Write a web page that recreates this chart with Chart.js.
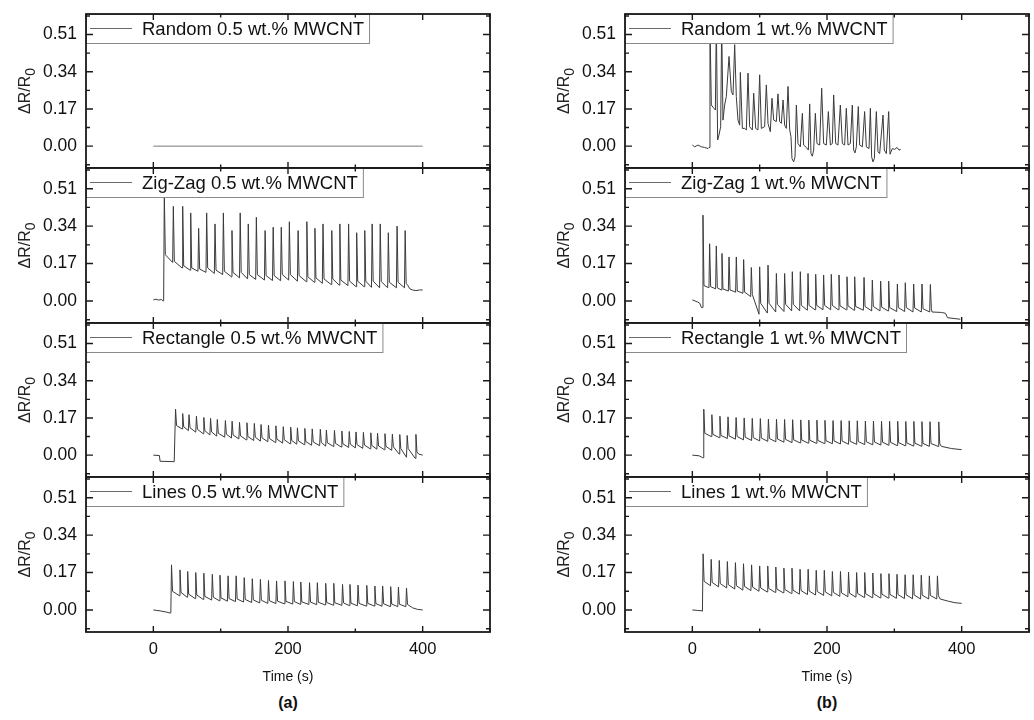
<!DOCTYPE html>
<html><head><meta charset="utf-8">
<script src="https://cdn.jsdelivr.net/npm/chart.js@4.4.1/dist/chart.umd.min.js"></script>
<style>
html,body{margin:0;padding:0;background:#fff;}
#wrap{position:relative;width:1034px;height:720px;overflow:hidden;font-family:"Liberation Sans",Arial,sans-serif;background:#fff;}
canvas{position:absolute;}
.lbl{position:absolute;color:#111;text-align:center;white-space:nowrap;}
</style></head><body><div id="wrap"></div>
<script>
// ---------- axis ticks ----------
const xTickValues = [0, 200, 400];
const xTickLabels = ['0', '200', '400'];
const xMinorTicks = [-100, 100, 300, 500];
const yTickValues = [0, 0.17, 0.34, 0.51];
const yTickLabels = ['0.00', '0.17', '0.34', '0.51'];
const yMinorTicks = [-0.085, 0.085, 0.255, 0.425, 0.595];
const seriesLabels = [
  'Random 0.5 wt.% MWCNT', 'Zig-Zag 0.5 wt.% MWCNT', 'Rectangle 0.5 wt.% MWCNT', 'Lines 0.5 wt.% MWCNT',
  'Random 1 wt.% MWCNT', 'Zig-Zag 1 wt.% MWCNT', 'Rectangle 1 wt.% MWCNT', 'Lines 1 wt.% MWCNT'
];

// ---------- Random 0.5 ----------
const random05 = [[0, 0], [400, 0]];

// ---------- Zig-Zag 0.5 ----------
const zz05Start = [[0,0.005],[4,0.008],[8,0.004],[12,0.007],[14.5,0.0]];
const zz05T = [16.3,29.7,43.6,55.5,67.3,79.2,91.6,104,116.8,129,141,153,166,178,190,202,215,228,240,252,265,277,290,302,314,325,337,349,362,374];
const zz05P = [0.49,0.43,0.43,0.40,0.33,0.40,0.35,0.40,0.32,0.40,0.35,0.38,0.32,0.335,0.335,0.36,0.32,0.36,0.33,0.35,0.32,0.35,0.35,0.31,0.32,0.35,0.35,0.31,0.34,0.32];
const zz05L = [0.003,0.175,0.15,0.14,0.135,0.13,0.125,0.12,0.11,0.105,0.10,0.098,0.095,0.093,0.092,0.095,0.09,0.088,0.085,0.08,0.075,0.072,0.07,0.065,0.065,0.062,0.06,0.06,0.06,0.06];
const zz05S = [0.21,0.18,0.16,0.15,0.145,0.15,0.14,0.135,0.13,0.13,0.12,0.12,0.115,0.115,0.12,0.12,0.115,0.11,0.105,0.10,0.10,0.095,0.09,0.09,0.09,0.09,0.088,0.085,0.085,0.08];
const zz05End = [[378,0.07],[381,0.055],[385,0.05],[390,0.047],[395,0.05],[400,0.05]];

// ---------- Rectangle 0.5 ----------
const r05Start = [[0,0],[9,-0.002],[10,-0.028],[31,-0.03]];
const r05T = [33,43.6,53,64,75,85,95,107,117,128,139,150,160,171,182,193,204,214,225,236,248,257,269,280,291,301,312,323,333,344,355,366,377,390];
const r05P = [0.21,0.19,0.185,0.178,0.172,0.168,0.163,0.158,0.155,0.15,0.148,0.145,0.14,0.137,0.134,0.13,0.128,0.125,0.122,0.12,0.118,0.115,0.113,0.11,0.108,0.106,0.104,0.102,0.1,0.098,0.096,0.094,0.09,0.095];
const r05L = [-0.03,0.12,0.112,0.105,0.098,0.092,0.087,0.082,0.078,0.074,0.07,0.067,0.064,0.061,0.058,0.055,0.052,0.05,0.048,0.045,0.043,0.041,0.039,0.037,0.035,0.033,0.031,0.029,0.027,0.025,0.022,0.005,-0.01,-0.015];
const r05S = [0.135,0.13,0.125,0.118,0.112,0.106,0.1,0.096,0.092,0.088,0.085,0.082,0.079,0.076,0.073,0.07,0.067,0.065,0.062,0.06,0.058,0.056,0.054,0.052,0.05,0.048,0.046,0.044,0.042,0.04,0.038,0.03,0.03,0.015];
const r05End = [[394,0.005],[400,0.0]];

// ---------- Lines 0.5 ----------
const l05Start = [[0,0],[10,-0.004],[20,-0.01],[25,-0.014]];
const l05T = [27,39.6,51,63,75,87.6,99,111,123,135,147,159,171,183,195.5,208,219,232,243.6,256,268,281,292,304,317,329,340.6,352.5,364,376];
const l05P = [0.205,0.182,0.175,0.17,0.167,0.162,0.158,0.155,0.155,0.147,0.142,0.139,0.134,0.132,0.132,0.129,0.127,0.124,0.124,0.121,0.121,0.116,0.116,0.113,0.112,0.109,0.109,0.106,0.104,0.10];
const l05L = [-0.012,0.065,0.058,0.052,0.048,0.045,0.042,0.04,0.038,0.036,0.034,0.032,0.03,0.029,0.028,0.027,0.026,0.025,0.024,0.023,0.022,0.021,0.02,0.019,0.018,0.018,0.017,0.016,0.015,0.015];
const l05S = [0.085,0.08,0.072,0.068,0.062,0.058,0.055,0.052,0.05,0.048,0.046,0.044,0.042,0.04,0.039,0.038,0.037,0.036,0.035,0.034,0.033,0.032,0.031,0.03,0.03,0.029,0.028,0.027,0.026,0.025];
const l05End = [[385,0.01],[392,0.003],[400,0.0]];

// ---------- Random 1 (time, value) ----------
const random1 = [[0,0.005],[3.5,-0.003],[8.4,0.005],[13.4,-0.003],[18.3,-0.006],[23.3,-0.011],[24.8,-0.006],[26.2,0.56],[28.2,0.188],[30.7,0.178],[34.2,0.165],[35.6,0.56],[37.6,0.028],[39.6,0.051],[42.1,0.089],[43.6,0.56],[45.5,0.119],[48,0.188],[50.5,0.227],[54.5,0.41],[57.9,0.25],[60.4,0.234],[62.9,0.464],[65.3,0.227],[67.8,0.119],[70.3,0.096],[71.3,0.337],[74.3,0.081],[77.7,0.081],[80.2,0.074],[82.7,0.334],[85.1,0.089],[89.1,0.074],[91.1,0.242],[94.1,0.081],[97.5,0.074],[100,0.326],[102.5,0.081],[107.4,0.089],[109.9,0.28],[112.4,0.104],[115.8,0.066],[118.3,0.219],[120.8,0.119],[124.8,0.112],[127.2,0.239],[129.7,0.112],[132.2,0.104],[134.7,0.211],[137.1,0.096],[139.6,0.081],[142.1,0.273],[144.6,0.074],[146.5,0.043],[148,-0.057],[150.5,-0.072],[152.5,-0.049],[154.5,0.188],[156.9,0.012],[160.4,-0.003],[163.4,0.15],[165.3,0.005],[169.3,-0.006],[172.3,-0.018],[174.3,0.193],[176.2,-0.034],[178.2,-0.046],[180.2,-0.018],[182.7,0.15],[185.1,0.012],[189.1,0.005],[192.1,0.265],[195,0.012],[199,0.005],[202,0.158],[205,0.005],[207.9,0.012],[209.9,0.234],[212.9,0.012],[216.3,0.005],[219.8,0.188],[222.8,0.012],[226.2,0.005],[228.7,0.173],[231.2,0.005],[234.7,0.012],[237.6,0.188],[239.6,-0.018],[241.6,-0.031],[243.6,-0.003],[246.5,0.181],[248.5,0.005],[252.5,-0.003],[255.9,0.158],[258.4,-0.003],[262.4,-0.011],[264.4,0.173],[266.3,-0.049],[268.3,-0.072],[270.3,-0.057],[273.3,0.158],[275.7,-0.026],[278.2,-0.034],[283.2,0.142],[285.1,-0.018],[288.1,-0.034],[291.6,0.158],[293.6,-0.037],[297,-0.011],[300.5,-0.015],[304,-0.006],[306.9,-0.018],[309.4,-0.015]];

// ---------- Zig-Zag 1 ----------
const zz1Start = [[0,0.005],[4,0.0],[8,-0.005],[11,-0.01],[13.5,-0.03]];
const zz1T = [15.8,25.7,35.6,44,54.5,65.3,76.2,87.6,100,112.4,124.8,137.1,148.5,160.4,171.8,183.2,195,206.4,217.8,229.7,241.1,255,267.3,279.7,291.6,304.5,316.3,328.7,341.1,353.5];
const zz1P = [0.39,0.26,0.25,0.216,0.20,0.20,0.188,0.152,0.155,0.163,0.125,0.125,0.133,0.133,0.125,0.121,0.118,0.121,0.118,0.11,0.11,0.107,0.095,0.09,0.09,0.077,0.083,0.077,0.077,0.075];
const zz1L = [-0.03,0.06,0.055,0.05,0.045,0.04,0.035,0.02,-0.06,-0.055,-0.05,-0.048,-0.045,-0.045,-0.042,-0.04,-0.04,-0.04,-0.04,-0.04,-0.042,-0.042,-0.045,-0.045,-0.045,-0.048,-0.048,-0.05,-0.05,-0.05];
const zz1S = [0.07,0.065,0.06,0.055,0.05,0.045,0.04,0.03,-0.01,-0.01,-0.015,-0.015,-0.015,-0.02,-0.02,-0.02,-0.02,-0.02,-0.022,-0.022,-0.025,-0.025,-0.025,-0.028,-0.03,-0.03,-0.03,-0.032,-0.035,-0.035];
const zz1End = [[356,-0.05],[370,-0.052],[376,-0.056],[379,-0.076],[390,-0.08],[398,-0.083]];

// ---------- Rectangle 1 ----------
const r1Start = [[0,0],[10,-0.003],[15.5,-0.012]];
const r1T = [17,29,41,53,65,77,89,101,113,125,137,149,161,173,185,197,209,221,233,245,257,269,281,293,305,317,329,341,353,366];
const r1P = [0.21,0.185,0.178,0.175,0.172,0.17,0.168,0.167,0.165,0.164,0.163,0.162,0.161,0.16,0.16,0.159,0.158,0.158,0.157,0.157,0.156,0.156,0.155,0.155,0.155,0.154,0.154,0.153,0.153,0.152];
const r1L = [-0.012,0.085,0.08,0.076,0.073,0.07,0.067,0.065,0.063,0.061,0.059,0.057,0.056,0.055,0.054,0.053,0.052,0.051,0.05,0.049,0.048,0.047,0.046,0.045,0.044,0.043,0.042,0.041,0.04,0.04];
const r1S = [0.1,0.095,0.09,0.088,0.085,0.082,0.08,0.078,0.076,0.074,0.072,0.07,0.069,0.068,0.067,0.066,0.065,0.064,0.063,0.062,0.061,0.06,0.059,0.058,0.057,0.056,0.055,0.054,0.053,0.052];
const r1End = [[370,0.04],[385,0.03],[400,0.025]];

// ---------- Lines 1 ----------
const l1Start = [[0,0],[8,-0.002],[14.5,-0.004]];
const l1T = [16,28,40,52,64,76,88,100,112,124,136,148,160,172,184,196,208,220,232,244,256,268,280,292,304,316,328,340,352,364];
const l1P = [0.255,0.23,0.225,0.22,0.215,0.21,0.205,0.2,0.2,0.195,0.19,0.19,0.185,0.185,0.18,0.18,0.175,0.175,0.172,0.17,0.17,0.168,0.165,0.165,0.162,0.16,0.16,0.158,0.155,0.155];
const l1L = [-0.005,0.11,0.105,0.1,0.095,0.09,0.088,0.085,0.082,0.08,0.078,0.075,0.072,0.07,0.068,0.066,0.064,0.062,0.06,0.058,0.057,0.056,0.055,0.054,0.053,0.052,0.051,0.05,0.05,0.05];
const l1S = [0.13,0.125,0.12,0.115,0.11,0.107,0.104,0.1,0.098,0.095,0.093,0.09,0.088,0.086,0.084,0.082,0.08,0.078,0.076,0.075,0.074,0.073,0.072,0.071,0.07,0.069,0.068,0.067,0.066,0.065];
const l1End = [[368,0.05],[380,0.04],[390,0.033],[400,0.03]];

// ---------- assemble point lists from the read values ----------
function pairs(arr){ return arr.map(p => ({x:p[0], y:p[1]})); }
function cycles(start, T, L, P, S, end){
  const pts = pairs(start);
  T.forEach((t,i) => { pts.push({x:t-1, y:L[i]}, {x:t, y:P[i]}, {x:t+1.5, y:S[i]}); });
  return pts.concat(pairs(end));
}
const seriesData = [
  pairs(random05),
  cycles(zz05Start, zz05T, zz05L, zz05P, zz05S, zz05End),
  cycles(r05Start, r05T, r05L, r05P, r05S, r05End),
  cycles(l05Start, l05T, l05L, l05P, l05S, l05End),
  pairs(random1),
  cycles(zz1Start, zz1T, zz1L, zz1P, zz1S, zz1End),
  cycles(r1Start, r1T, r1L, r1P, r1S, r1End),
  cycles(l1Start, l1T, l1L, l1P, l1S, l1End)
];

// ---------- layout ----------
const ROW_TOPS = [14, 168, 323, 477, 632];
const COL_LEFT = [86, 625];
const PLOT_W = 404;
const Y_AXIS_W = 86;
const FONT = '"Liberation Sans", Arial, sans-serif';
const wrap = document.getElementById('wrap');

const framePlugin = {
  id: 'framePlugin',
  afterDatasetsDraw(chart) {
    const ctx = chart.ctx, ca = chart.chartArea;
    const label = chart.data.datasets[0].label;
    ctx.save();
    ctx.font = '18.5px ' + FONT;
    const tw = ctx.measureText(label).width;
    const w = 56 + tw + 5, h = 29;
    ctx.fillStyle = '#fff';
    ctx.fillRect(ca.left, ca.top, w, h);
    ctx.strokeStyle = '#8a8a8a'; ctx.lineWidth = 1;
    ctx.strokeRect(Math.round(ca.left) + 0.5, Math.round(ca.top) + 0.5, w, h);
    ctx.strokeStyle = '#6a6a6a';
    ctx.beginPath(); ctx.moveTo(ca.left + 4, ca.top + h/2); ctx.lineTo(ca.left + 46, ca.top + h/2); ctx.stroke();
    ctx.fillStyle = '#111'; ctx.textBaseline = 'middle'; ctx.textAlign = 'left';
    ctx.fillText(label, ca.left + 56, ca.top + h/2 + 1);
    ctx.restore();
  },
  afterDraw(chart) {
    const ctx = chart.ctx, ca = chart.chartArea;
    const xs = chart.scales.x, ys = chart.scales.y;
    ctx.save();
    ctx.strokeStyle = '#1a1a1a'; ctx.lineWidth = 1.8;
    ctx.strokeRect(ca.left, ca.top, ca.right - ca.left, ca.bottom - ca.top);
    ctx.lineWidth = 1.4;
    ctx.beginPath();
    const xt = (v, len) => { const p = xs.getPixelForValue(v);
      ctx.moveTo(p, ca.bottom); ctx.lineTo(p, ca.bottom - len);
      ctx.moveTo(p, ca.top); ctx.lineTo(p, ca.top + len); };
    const yt = (v, len) => { const p = ys.getPixelForValue(v);
      ctx.moveTo(ca.left, p); ctx.lineTo(ca.left + len, p);
      ctx.moveTo(ca.right, p); ctx.lineTo(ca.right - len, p); };
    xTickValues.forEach(v => xt(v, 6));
    xMinorTicks.forEach(v => xt(v, 3.5));
    yTickValues.forEach(v => yt(v, 7));
    yMinorTicks.forEach(v => yt(v, 4));
    ctx.stroke();
    // y axis title  ΔR/R0 (subscript 0)
    ctx.translate(ca.left - 60, (ca.top + ca.bottom) / 2);
    ctx.rotate(-Math.PI / 2);
    ctx.fillStyle = '#222'; ctx.textBaseline = 'middle'; ctx.textAlign = 'left';
    const main = 'ΔR/R', sub = '0';
    ctx.font = '16px ' + FONT;
    const wm = ctx.measureText(main).width;
    ctx.font = '14px ' + FONT;
    const wsub = ctx.measureText(sub).width;
    const x0 = -(wm + wsub) / 2;
    ctx.font = '16px ' + FONT;
    ctx.fillText(main, x0, 0);
    ctx.font = '14px ' + FONT;
    ctx.fillText(sub, x0 + wm, 5);
    ctx.restore();
  }
};

for (let c = 0; c < 2; c++) {
  for (let r = 0; r < 4; r++) {
    const idx = c * 4 + r;
    const top = ROW_TOPS[r], bottom = ROW_TOPS[r + 1];
    const isBottom = r === 3;
    const xh = isBottom ? 34 : 0;
    const cv = document.createElement('canvas');
    const W = Y_AXIS_W + PLOT_W + 10;
    const H = 6 + (bottom - top) + (isBottom ? xh : 6);
    cv.width = W; cv.height = H;
    cv.style.left = (COL_LEFT[c] - Y_AXIS_W) + 'px';
    cv.style.top = (top - 6) + 'px';
    cv.style.width = W + 'px'; cv.style.height = H + 'px';
    wrap.appendChild(cv);
    new Chart(cv.getContext('2d'), {
      type: 'line',
      data: { datasets: [{
        label: seriesLabels[idx],
        data: seriesData[idx],
        borderColor: idx === 0 ? '#7a7a7a' : '#3a3a3a',
        borderWidth: 1,
        pointRadius: 0,
        tension: 0,
        fill: false
      }]},
      options: {
        responsive: false, animation: false, devicePixelRatio: 1,
        layout: { padding: { left: 0, right: 10, top: 6, bottom: isBottom ? 0 : 6 } },
        plugins: { legend: { display: false }, tooltip: { enabled: false } },
        events: [],
        scales: {
          x: {
            type: 'linear', min: -100, max: 500,
            grid: { display: false, drawTicks: false, tickLength: 0 }, border: { display: false },
            afterBuildTicks: s => { s.ticks = xTickValues.map(v => ({ value: v })); },
            afterFit: s => { s.height = xh; s.paddingLeft = 0; s.paddingRight = 0; },
            ticks: {
              display: isBottom, padding: 8, color: '#111', maxRotation: 0,
              font: { family: FONT, size: 16.5 },
              callback: v => xTickLabels[xTickValues.indexOf(v)]
            }
          },
          y: {
            type: 'linear', min: -0.1, max: 0.604,
            grid: { display: false, drawTicks: false, tickLength: 0 }, border: { display: false },
            afterBuildTicks: s => { s.ticks = yTickValues.map(v => ({ value: v })); },
            afterFit: s => { s.width = Y_AXIS_W; s.paddingTop = 0; s.paddingBottom = 0; },
            ticks: {
              padding: 9, color: '#111',
              font: { family: FONT, size: 17.5 },
              callback: v => yTickLabels[yTickValues.indexOf(v)]
            }
          }
        }
      },
      plugins: [framePlugin]
    });
  }
}

const captions = [
  { text: 'Time (s)', cx: 288, top: 668, size: 14, bold: false },
  { text: 'Time (s)', cx: 827, top: 668, size: 14, bold: false },
  { text: '(a)', cx: 288, top: 694, size: 16, bold: true },
  { text: '(b)', cx: 827, top: 694, size: 16, bold: true }
];
captions.forEach(o => {
  const d = document.createElement('div');
  d.className = 'lbl';
  d.textContent = o.text;
  d.style.fontSize = o.size + 'px';
  d.style.fontWeight = o.bold ? 'bold' : 'normal';
  d.style.left = (o.cx - 60) + 'px'; d.style.width = '120px';
  d.style.top = o.top + 'px';
  wrap.appendChild(d);
});
</script>
</body></html>
